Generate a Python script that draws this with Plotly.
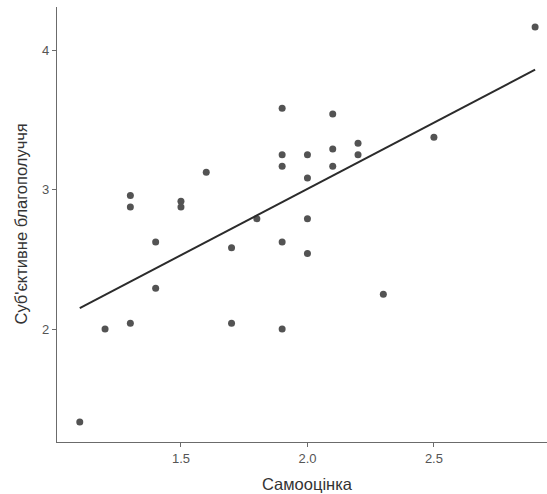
import numpy as np
import plotly.graph_objects as go

# Самооцінка vs Суб'єктивне благополуччя, 30 respondents
self_esteem = [1.1, 1.2, 1.3, 1.3, 1.3, 1.4, 1.4, 1.5, 1.5, 1.6,
               1.7, 1.7, 1.8, 1.9, 1.9, 1.9, 1.9, 1.9, 2.0, 2.0,
               2.0, 2.0, 2.1, 2.1, 2.1, 2.2, 2.2, 2.3, 2.5, 2.9]
wellbeing = [1.333, 2.0, 2.042, 2.875, 2.958, 2.292, 2.625, 2.875, 2.917, 3.125,
             2.042, 2.583, 2.792, 2.0, 2.625, 3.167, 3.25, 3.583, 2.542, 2.792,
             3.083, 3.25, 3.167, 3.292, 3.542, 3.25, 3.333, 2.25, 3.375, 4.167]

x_ticks = [1.5, 2.0, 2.5]
x_tick_text = ["1.5", "2.0", "2.5"]
y_ticks = [2, 3, 4]
y_tick_text = ["2", "3", "4"]

x_title = "Самооцінка"
y_title = "Суб'єктивне благополуччя"

# ordinary least squares line over the observed x span
slope, intercept = np.polyfit(self_esteem, wellbeing, 1)
fit_x = np.array([min(self_esteem), max(self_esteem)])
fit_y = intercept + slope * fit_x

FONT = "Liberation Sans, Arial, sans-serif"
AXIS_COLOR = "#6b6b6b"

fig = go.Figure()
fig.add_trace(go.Scatter(
    x=self_esteem, y=wellbeing, mode="markers",
    marker=dict(size=7, color="#535353", line=dict(width=0)),
    hoverinfo="x+y", showlegend=False,
))
fig.add_trace(go.Scatter(
    x=fit_x, y=fit_y, mode="lines",
    line=dict(color="#2b2b2b", width=2),
    hoverinfo="skip", showlegend=False,
))

fig.update_layout(
    width=547, height=494,
    margin=dict(l=57, r=0, t=7, b=52),
    paper_bgcolor="white", plot_bgcolor="white",
    font=dict(family=FONT),
    showlegend=False,
    annotations=[
        dict(text=x_title, xref="paper", yref="paper", x=0.511, y=0,
             yshift=-42, xanchor="center", yanchor="middle", showarrow=False,
             font=dict(size=16.5, color="#333333", family=FONT)),
        dict(text=y_title, xref="paper", yref="paper", x=0, y=0.5,
             xshift=-37, textangle=-90, xanchor="center", yanchor="middle",
             showarrow=False, font=dict(size=16.5, color="#333333", family=FONT)),
    ],
)
fig.update_xaxes(
    range=[1.01, 2.947], tickvals=x_ticks, ticktext=x_tick_text,
    showgrid=False, zeroline=False, showline=True, linecolor=AXIS_COLOR,
    linewidth=1.2, ticks="outside", ticklen=4, tickwidth=1.2, tickcolor=AXIS_COLOR,
    tickfont=dict(size=13, color="#555555", family=FONT),
)
fig.update_yaxes(
    range=[1.19, 4.31], tickvals=y_ticks, ticktext=y_tick_text,
    showgrid=False, zeroline=False, showline=True, linecolor=AXIS_COLOR,
    linewidth=1.2, ticks="outside", ticklen=4, tickwidth=1.2, tickcolor=AXIS_COLOR,
    tickfont=dict(size=13, color="#555555", family=FONT),
)

fig.write_html("out.html")
